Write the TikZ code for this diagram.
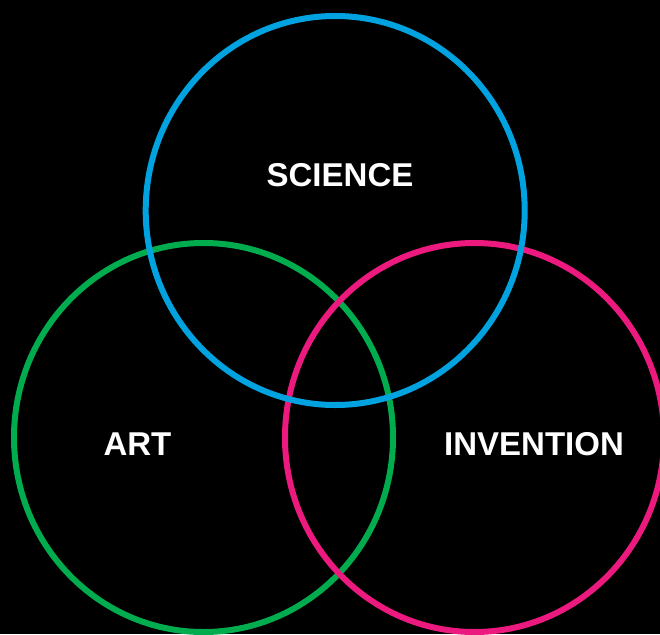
\documentclass[tikz,border=0pt]{standalone}
\usepackage{fontspec}
\setmainfont{Liberation Sans}
\usepackage{tikz}
\usetikzlibrary{shapes.geometric}
\definecolor{sciblue}{HTML}{00A3E0}
\definecolor{artgreen}{HTML}{00AC4E}
\definecolor{invpink}{HTML}{EC1A7E}

\begin{document}
\begin{tikzpicture}[
    x=1pt, y=-1pt,
    ring/.style={ellipse, draw=#1, line width=6pt, minimum width=379pt, minimum height=389pt, inner sep=0pt},
    word/.style={text=white, font=\fontsize{33}{36}\selectfont\bfseries, inner sep=0pt}
]
    % Background
    \fill[black] (0,0) rectangle (660,634);
    \useasboundingbox (0,0) rectangle (660,634);

    % Circles
    \node[ring=artgreen] (art) at (203.5,437.5) {};
    \node[ring=invpink] (invention) at (474.5,437.5) {};
    \node[ring=sciblue] (science) at (335.2,210.5) {};

    % Labels
    \node[word] (sciencelabel) at (340,175) {SCIENCE};
    \node[word] (artlabel) at (137.5,444) {ART};
    \node[word] (inventionlabel) at (534,444) {INVENTION};
\end{tikzpicture}
\end{document}
